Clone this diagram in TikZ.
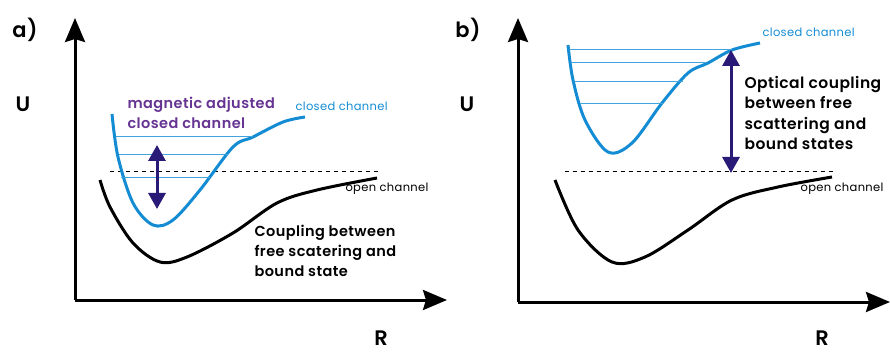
\documentclass[tikz,border=0pt]{standalone}
\usepackage{fontspec}
\setmainfont{Poppins}[BoldFont={Poppins SemiBold}, LetterSpace=3]
\usepackage{tikz}
\usetikzlibrary{arrows.meta, positioning}
\definecolor{CCBlue}{RGB}{20,140,212}
\definecolor{CCNavy}{RGB}{40,26,118}
\definecolor{CCPurple}{RGB}{102,52,146}

\begin{document}
\begin{tikzpicture}[x=1pt, y=-1pt,
          axis/.style={line width=3pt, -{Stealth[length=24pt, width=20pt, inset=3pt]}},
          opench/.style={line width=3pt, black, smooth, tension=0.55},
          closech/.style={line width=3pt, CCBlue, smooth, tension=0.55},
          level/.style={line width=0.8pt, CCBlue!80},
          thresh/.style={line width=1pt, dash pattern=on 4pt off 4pt},
          coup/.style={line width=3pt, CCNavy, {Triangle[length=16pt, width=17pt]}-{Triangle[length=16pt, width=17pt]}},
          lbl/.style={font=\fontsize{21}{21}\selectfont\bfseries},
          txt/.style={font=\fontsize{14.5}{20}\selectfont\bfseries, align=left, anchor=west},
          small/.style={font=\fontsize{11.5}{12}\selectfont, anchor=west}
        ]
        \useasboundingbox (0,0) rectangle (890,352);

        % ---------- panel a ----------
        \coordinate (oa) at (75,300);
        \coordinate (ya) at (75,18);
        \coordinate (xa) at (447,300);
        \draw[axis] (oa) -- (ya);
        \draw[axis] (oa) -- (xa);
        \node[lbl] (taga) at (25,30) {a)};
        \node[lbl] (ua) at (23,104) {U};
        \node[lbl, inner sep=1pt] (ra) at (381,338) {R};

        \draw[thresh] (110,172) -- (378,172);
        \draw[opench] plot coordinates {(100,180) (110,207) (133,243) (160,262)
              (187,257) (233,233) (277,203) (317,190) (377,178)};
        \draw[closech] plot coordinates {(112,114) (118,157) (133,203) (153,225)
              (173,220) (200,190) (233,147) (253,137) (283,122) (305,117)};
        \foreach \y/\xl/\xr in {136/116/253, 154/119/228, 177/121/210} {
          \draw[level] (\xl,\y) -- (\xr,\y);
        }
        \coordinate (upa) at (157,145);
        \coordinate (loa) at (157,209);
        \draw[coup] (upa) -- (loa);

        \node[txt, CCPurple] (magn) at (124,113) {magnetic adjusted\\closed channel};
        \node[small, CCBlue] (cca) at (292,106) {closed channel};
        \node[small] (oca) at (342,189) {open channel};
        \node[txt] (cpa) at (251,251)
              {Coupling between\\free scatering and\\bound state};

        % ---------- panel b ----------
        \coordinate (ob) at (518,302);
        \coordinate (yb) at (518,18);
        \coordinate (xb) at (890,302);
        \draw[axis] (ob) -- (yb);
        \draw[axis] (ob) -- (xb);
        \node[lbl] (tagb) at (468,30) {b)};
        \node[lbl] (ub) at (467,104) {U};
        \node[lbl, inner sep=1pt] (rb) at (822,338) {R};

        \draw[thresh] (565,172) -- (833,172);
        \draw[opench] plot coordinates {(555,180) (578,230) (612,262) (645,257)
              (688,230) (732,200) (778,187) (832,177)};
        \draw[closech] plot coordinates {(568,45) (573,80) (585,120) (608,152)
              (632,143) (662,103) (688,73) (708,63) (732,50) (760,43)};
        \foreach \y/\xl/\xr in {49/569/732, 62/571/705, 81/574/683, 103/580/663} {
          \draw[level] (\xl,\y) -- (\xr,\y);
        }
        \coordinate (upb) at (731,50);
        \coordinate (lob) at (731,173);
        \draw[coup] (upb) -- (lob);

        \node[small, CCBlue] (ccb) at (759,32) {closed channel};
        \node[small] (ocb) at (797,189) {open channel};
        \node[txt, font=\fontsize{15.5}{20.5}\selectfont\bfseries] (cpb) at (741,113)
              {Optical coupling\\between free\\scattering and\\bound states};
      \end{tikzpicture}
\end{document}
